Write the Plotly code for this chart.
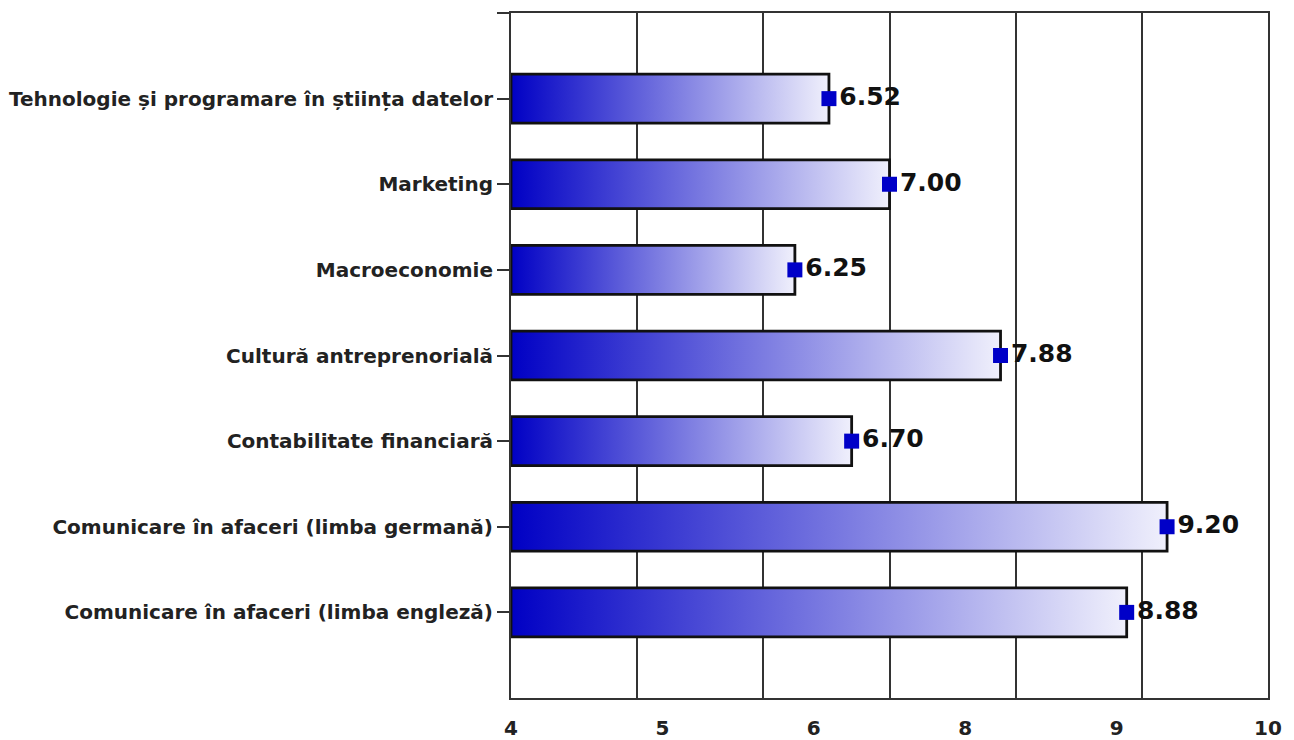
import plotly.graph_objects as go
import numpy as np

categories = [
    "Comunicare în afaceri (limba engleză)",
    "Comunicare în afaceri (limba germană)",
    "Contabilitate financiară",
    "Cultură antreprenorială",
    "Macroeconomie",
    "Marketing",
    "Tehnologie și programare în știința datelor",
]
values = [8.88, 9.20, 6.70, 7.88, 6.25, 7.00, 6.52]
value_labels = ["8.88", "9.20", "6.70", "7.88", "6.25", "7.00", "6.52"]
x_tick_labels = ["4", "5", "6", "8", "9", "10"]
x_min, x_max = 4, 10

FONT = "DejaVu Sans, Liberation Sans, Arial"
half = 0.285
fig = go.Figure()
for i, v in enumerate(values):
    xs = [x_min, v, v, x_min, x_min]
    ys = [i - half, i - half, i + half, i + half, i - half]
    fig.add_trace(go.Scatter(
        x=xs, y=ys, mode="lines", fill="toself",
        fillgradient=dict(type="horizontal",
                          colorscale=[[0, "#0000c4"], [1, "#f0f0fc"]]),
        line=dict(color="#111111", width=2.8),
        hoverinfo="skip", showlegend=False,
    ))

fig.add_trace(go.Scatter(
    x=values, y=list(range(len(values))), mode="markers+text",
    marker=dict(symbol="square", size=15, color="#0000c8"),
    text=value_labels, textposition="middle right",
    textfont=dict(family=FONT, size=25, color="#111111", weight="bold"),
    showlegend=False, hoverinfo="skip", cliponaxis=False,
))

tick_pos = list(np.linspace(x_min, x_max, len(x_tick_labels)))
fig.add_trace(go.Scatter(x=[x_min, x_max], y=[0, 0], xaxis="x2", mode="markers",
                         marker=dict(opacity=0), showlegend=False, hoverinfo="skip"))

n = len(values)
fig.update_layout(
    width=1286, height=732,
    margin=dict(l=503, r=26, t=5, b=42, autoexpand=False),
    paper_bgcolor="white", plot_bgcolor="white",
    xaxis=dict(range=[x_min, x_max], tickvals=list(range(x_min, x_max + 1)),
               showticklabels=False, showgrid=True, gridcolor="#333333", gridwidth=2,
               showline=True, linecolor="#333333", linewidth=2, mirror=True,
               zeroline=False, ticks=""),
    xaxis2=dict(range=[x_min, x_max], overlaying="x", side="bottom", anchor="y",
                tickvals=tick_pos, ticktext=x_tick_labels, showgrid=False,
                showline=False, zeroline=False, ticks="", ticklabelstandoff=16,
                tickfont=dict(family=FONT, size=20, color="#222222", weight="bold")),
    yaxis=dict(range=[-1, n], tickvals=list(range(n)) + [n], ticktext=categories + [""],
               showgrid=False, zeroline=False, showline=True, linecolor="#333333", linewidth=2,
               mirror=True, ticks="outside", ticklen=12, tickcolor="#333333", tickwidth=1.5,
               tickfont=dict(family=FONT, size=20, color="#222222", weight="bold")),
)

fig.write_html("out.html")
